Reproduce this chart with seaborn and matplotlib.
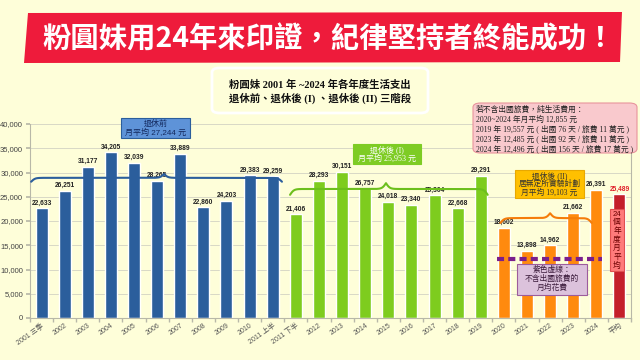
import numpy as np
import pandas as pd
import matplotlib
matplotlib.use("Agg")
import matplotlib.pyplot as plt
import seaborn as sns
from matplotlib.patches import Polygon, FancyBboxPatch
from matplotlib.ticker import FuncFormatter

# ============================================================
# Data
# ============================================================

labels = ["2001 三季", "2002", "2003", "2004", "2005", "2006", "2007", "2008", "2009", "2010",
          "2011 上半", "2011 下半", "2012", "2013", "2014", "2015", "2016", "2017", "2018", "2019",
          "2020", "2021", "2022", "2023", "2024", "平均"]
values = [22633, 26251, 31177, 34205, 32039, 28265, 33889, 22860, 24203, 29383,
          29259, 21406, 28293, 30151, 26757, 24018, 23340, 25304, 22668, 29291,
          18602, 13898, 14962, 21662, 26391, 25489]
phases = ["退休前"] * 11 + ["退休後 (I)"] * 9 + ["退休後 (II)"] * 5 + ["平均"]

phase_colors = {"退休前": "#2B5E9C", "退休後 (I)": "#7ECC1E",
                "退休後 (II)": "#FF8A0E", "平均": "#C41F2A"}

pre_avg = 27244
post1_avg = 25953
post2_avg = 19103
no_travel_avg = 12855
no_travel_line = 12100   # where the purple dashed line sits in the picture

df = pd.DataFrame({"label": labels, "value": values, "phase": phases})

BG = "#FEFED9"
W, H = 640, 360
SANS = ["Liberation Sans", "Noto Sans CJK TC"]
SERIF = ["Liberation Serif", "Noto Sans CJK TC"]

sns.set_theme(style="whitegrid")
plt.rcParams["font.family"] = SANS

fig = plt.figure(figsize=(6.4, 3.6), dpi=100, facecolor=BG)
ax = fig.add_axes([30 / W, 1 - 318 / H, 601 / W, 194 / H])
ax.set_facecolor(BG)

sns.barplot(data=df, x="label", y="value", hue="phase", order=labels,
            palette=phase_colors, dodge=False, width=0.52, saturation=1,
            legend=False, ax=ax, zorder=2)

# value labels
for i, v in enumerate(values):
    ax.text(i, v + 350, f"{v:,}", ha="center", va="bottom", fontsize=4.8,
            fontweight="bold", color="#E0202A" if labels[i] == "平均" else "#222222",
            zorder=3)

# axes styling
ax.set_xlim(-0.5, len(labels) - 0.5)
ax.set_ylim(0, 40000)
ax.set_yticks(np.arange(0, 40001, 5000))
ax.yaxis.set_major_formatter(FuncFormatter(lambda v, p: f"{int(v):,}"))
ax.set_xlabel("")
ax.set_ylabel("")
ax.xaxis.grid(False)
ax.yaxis.grid(True, color="#D8D8C6", lw=0.7)
ax.set_axisbelow(True)
for side in ["left", "bottom", "right"]:
    ax.spines[side].set_visible(True)
    ax.spines[side].set_color("#B8B8A8")
    ax.spines[side].set_linewidth(0.8)
ax.spines["top"].set_visible(False)

ax.set_xticks(np.arange(-0.5, len(labels), 1), minor=True)
ax.tick_params(axis="x", which="major", length=0, pad=3, labelsize=5, labelcolor="#555555")
ax.tick_params(axis="x", which="minor", length=3, color="#B8B8A8", bottom=True)
ax.tick_params(axis="y", length=3, color="#B8B8A8", left=True, pad=2, labelsize=5.5,
               labelcolor="#444444")
for t in ax.get_xticklabels():
    t.set_rotation(35)
    t.set_ha("right")
    t.set_rotation_mode("anchor")


# curly brace lines
def brace(x0, xm, x1, y, h, color, beta=12):
    xl = np.linspace(x0, xm, 200)
    fl = 1 / (1 + np.exp(-beta * (xl - x0))) + 1 / (1 + np.exp(-beta * (xl - xm)))
    xr = np.linspace(xm, x1, 200)
    fr = 1 / (1 + np.exp(beta * (xr - xm))) + 1 / (1 + np.exp(beta * (xr - x1)))
    xs = np.concatenate([xl, xr])
    ys = y + (np.concatenate([fl, fr]) - 1) * h
    ax.plot(xs, ys, color=color, lw=1.5, zorder=4, solid_capstyle="round")


brace(-0.45, 5.3, 10.4, 28900, 1600, "#2B5E9C")
brace(10.75, 14.9, 19.3, 26600, 2400, "#6CBF1C")
brace(19.85, 22.0, 23.8, 20600, 2000, "#F57C0A")

# purple dashed line
ax.plot([19.7, 24.25], [no_travel_line, no_travel_line], color="#7A1F8C", lw=3,
        ls=(0, (1.7, 1.0)), zorder=4)


# ============================================================
# Boxes and titles (pixel positions)
# ============================================================

def px_box(x0, y0, x1, y1, fc, ec, lw=0.8, round_=False):
    style = "round,pad=0,rounding_size=0.012" if round_ else "square,pad=0"
    p = FancyBboxPatch((x0 / W, 1 - y1 / H), (x1 - x0) / W, (y1 - y0) / H,
                       boxstyle=style, transform=fig.transFigure,
                       fc=fc, ec=ec, lw=lw, zorder=5)
    fig.patches.append(p)


def px_text(x, y, s, **kw):
    fig.text(x / W, 1 - y / H, s, zorder=6, **kw)


def px_lines(x, y_first, step, lines, **kw):
    # one text per line so CJK line height stays under control
    for k, line in enumerate(lines):
        px_text(x, y_first + k * step, line, va="center", **kw)


# red banner
banner = Polygon([(28 / W, 1 - 13 / H), (622 / W, 1 - 12 / H),
                  (620 / W, 1 - 62 / H), (24 / W, 1 - 63 / H)],
                 closed=True, transform=fig.transFigure, fc="#EE1B3B", ec="none")
fig.patches.append(banner)
px_text(329, 39, "粉圓妹用24年來印證，紀律堅持者終能成功！", color="white", fontsize=20.4,
        fontweight="bold", ha="center", va="center",
        family=["Noto Sans CJK TC", "DejaVu Sans"])

# subtitle box
px_box(212, 68, 428, 113, BG, "white", lw=2, round_=True)
px_lines(320, 85, 13, ["粉圓妹 2001 年 ~2024 年各年度生活支出",
                       "退休前、退休後 (I) 、退休後 (II) 三階段"],
         fontsize=7.5, fontweight="bold", ha="center", family=SERIF, color="#111111")

# phase boxes
px_box(121, 118, 190, 138, "#5E93D8", "#2B5E9C")
px_lines(155.5, 123.5, 9, ["退休前", f"月平均 {pre_avg:,} 元"],
         fontsize=5.8, ha="center", color="#13295E")

px_box(353, 144, 421, 164, "#7ECC24", "#7ECC24")
px_lines(387, 149.5, 9, ["退休後 (I)", f"月平均 {post1_avg:,} 元"],
         fontsize=5.8, ha="center", color="white", family=SERIF)

px_box(515, 170, 584, 198, "#FFC000", "#E8A800")
px_lines(549.5, 175.5, 8.5, ["退休後 (II)", "居無定所實驗計劃", f"月平均 {post2_avg:,} 元"],
         fontsize=5.6, ha="center", color="#333333", family=SERIF)

px_box(517, 264, 587, 295, "#DCC2DC", "#9C5C9C")
px_lines(552, 270, 9, ["紫色虛線：", "不含出國旅費的", "月均花費"],
         fontsize=5.6, ha="center", color="#3A1A3A")

# pink note
px_box(473, 103, 637, 153, "#F9C9CD", "#E8949C", round_=True)
note_lines = ["若不含出國旅費，純生活費用：",
              f"2020~2024 年月平均 {no_travel_avg:,} 元",
              "2019 年 19,557 元 ( 出國 76 天 / 旅費 11 萬元 )",
              "2023 年 12,485 元 ( 出國 92 天 / 旅費 11 萬元 )",
              "2024 年 12,496 元 ( 出國 156 天 / 旅費 17 萬元 )"]
px_lines(476, 110, 9.6, note_lines, fontsize=5.6, ha="left", color="#222222", family=SERIF)

# vertical average note
px_box(610, 209, 624, 271, "#FF7B7B", "#E05050")
px_lines(617, 214, 8.6, ["24", "個", "年", "度", "月", "平", "均"],
         fontsize=5.6, ha="center", color="#6B0000")

fig.savefig("out.png", dpi=100, facecolor=fig.get_facecolor())
